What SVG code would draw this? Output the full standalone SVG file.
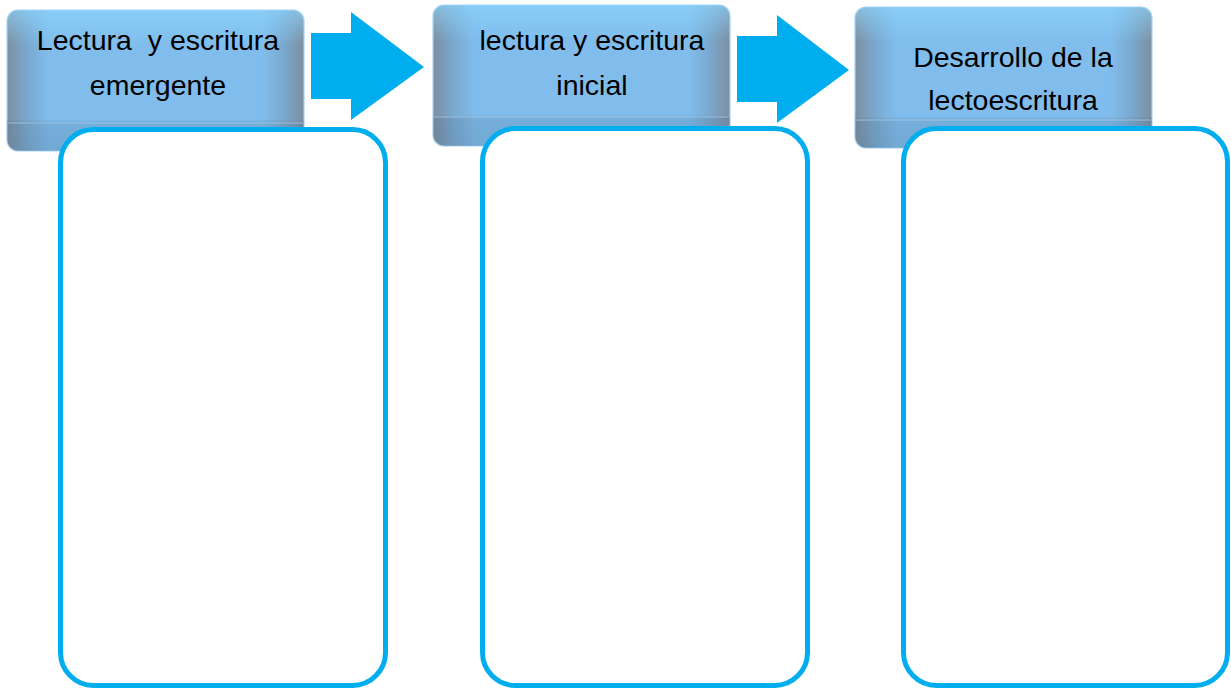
<svg xmlns="http://www.w3.org/2000/svg" width="1231" height="689" viewBox="0 0 1231 689">
<defs>
<linearGradient id="hg" x1="0" y1="0" x2="1" y2="0">
<stop offset="0" stop-color="#7d8fa0"/>
<stop offset="0.07" stop-color="#7aa9cf"/>
<stop offset="0.14" stop-color="#80bdec"/>
<stop offset="0.86" stop-color="#80bdec"/>
<stop offset="0.93" stop-color="#7aa9cf"/>
<stop offset="1" stop-color="#7d8fa0"/>
</linearGradient>
<linearGradient id="vg" x1="0" y1="0" x2="0" y2="1">
<stop offset="0" stop-color="#8fd8ff" stop-opacity="0.6"/>
<stop offset="0.25" stop-color="#8fd8ff" stop-opacity="0"/>
<stop offset="0.78" stop-color="#000000" stop-opacity="0"/>
<stop offset="0.8" stop-color="#3a5a78" stop-opacity="0.15"/>
<stop offset="1" stop-color="#3a5a78" stop-opacity="0.2"/>
</linearGradient>
</defs>
<style>
.hdr{fill:url(#hg);stroke:#a9d3f2;stroke-width:1.2}
.ov{fill:url(#vg)}
.sep{stroke:#a9cbe6;stroke-width:1;opacity:0.8}
.lbl{font-family:"Gill Sans","Liberation Sans",Arial,sans-serif;font-size:28.5px;fill:#000;text-anchor:middle;white-space:pre}
.arrow{fill:#00adef}
.card{fill:#ffffff;stroke:#00adef;stroke-width:5}
</style>
<g id="connectors">
<path class="arrow" d="M311,33 H351 V12 L424,67 L351,120 V99 H311 Z"/>
<path class="arrow" d="M737,36 H777 V15 L849,70 L777,123 V102 H737 Z"/>
</g>
<g id="node1">
<rect class="hdr" x="7" y="10" width="297" height="141" rx="11"/>
<rect class="ov" x="7" y="10" width="297" height="141" rx="11"/>
<line class="sep" x1="8" y1="123" x2="303" y2="123"/>
<text class="lbl" x="158" y="50" xml:space="preserve">Lectura  y escritura</text>
<text class="lbl" x="158" y="95">emergente</text>
</g>
<g id="node2">
<rect class="hdr" x="433" y="5" width="297" height="141" rx="11"/>
<rect class="ov" x="433" y="5" width="297" height="141" rx="11"/>
<line class="sep" x1="434" y1="117" x2="729" y2="117"/>
<text class="lbl" x="592" y="50">lectura y escritura</text>
<text class="lbl" x="592" y="95">inicial</text>
</g>
<g id="node3">
<rect class="hdr" x="855" y="7" width="297" height="141" rx="11"/>
<rect class="ov" x="855" y="7" width="297" height="141" rx="11"/>
<line class="sep" x1="856" y1="120" x2="1151" y2="120"/>
<text class="lbl" x="1013" y="67">Desarrollo de la</text>
<text class="lbl" x="1013" y="110">lectoescritura</text>
</g>
<g id="card1">
<rect class="card" x="60.5" y="129.5" width="325" height="556" rx="33"/>
</g>
<g id="card2">
<rect class="card" x="482.5" y="128.5" width="325" height="557" rx="33"/>
</g>
<g id="card3">
<rect class="card" x="903.5" y="128.5" width="324" height="557" rx="33"/>
</g>
</svg>
